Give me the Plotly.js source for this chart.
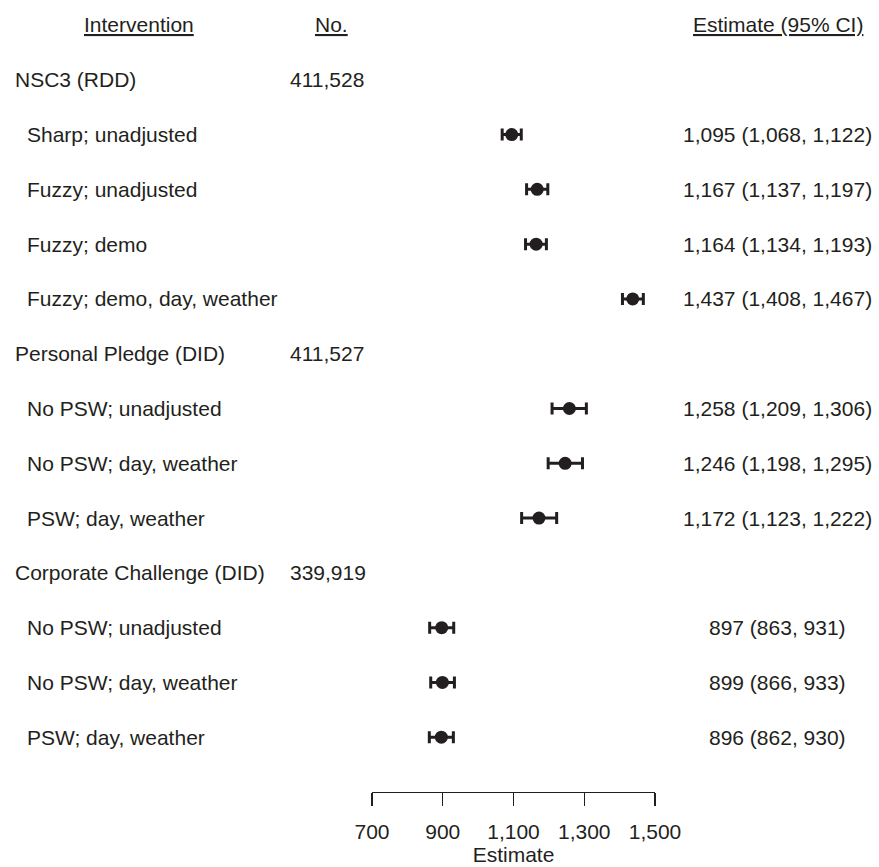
<!DOCTYPE html>
<html>
<head>
<meta charset="utf-8">
<script src="https://cdn.plot.ly/plotly-3.0.1.min.js"></script>
<style>html,body{margin:0;padding:0;background:#fff;}#chart{width:879px;height:867px;}</style>
</head>
<body>
<div id="chart"></div>
<script>
// ---- data ----
var headers = ['Intervention', 'No.', 'Estimate (95% CI)'];
var labels = ['NSC3 (RDD)', 'Sharp; unadjusted', 'Fuzzy; unadjusted', 'Fuzzy; demo', 'Fuzzy; demo, day, weather',
              'Personal Pledge (DID)', 'No PSW; unadjusted', 'No PSW; day, weather', 'PSW; day, weather',
              'Corporate Challenge (DID)', 'No PSW; unadjusted', 'No PSW; day, weather', 'PSW; day, weather'];
var isGroup = [true, false, false, false, false, true, false, false, false, true, false, false, false];
var counts = ['411,528', '', '', '', '', '411,527', '', '', '', '339,919', '', '', ''];
var estimate = [null, 1095, 1167, 1164, 1437, null, 1258, 1246, 1172, null, 897, 899, 896];
var lower    = [null, 1068, 1137, 1134, 1408, null, 1209, 1198, 1123, null, 863, 866, 862];
var upper    = [null, 1122, 1197, 1193, 1467, null, 1306, 1295, 1222, null, 931, 933, 930];
var tickVals = [700, 900, 1100, 1300, 1500];
var tickText = ['700', '900', '1,100', '1,300', '1,500'];
var axisTitle = 'Estimate';

// ---- layout helpers ----
var W = 879, H = 867;
var ink = '#231f20';
var fontFam = 'Liberation Sans, Arial, sans-serif';
var fs = 21;
function px(p) { return p / W; }
function fmt(v) { return v.toLocaleString('en-US'); }

var rowY = labels.map(function (_, i) { return -(i + 1); });
var plusErr = estimate.map(function (e, i) { return e == null ? null : upper[i] - e; });
var minusErr = estimate.map(function (e, i) { return e == null ? null : e - lower[i]; });

var trace = {
  type: 'scatter', mode: 'markers',
  x: estimate, y: rowY,
  marker: { size: 13, color: ink, symbol: 'circle' },
  error_x: { type: 'data', symmetric: false, array: plusErr, arrayminus: minusErr,
             color: ink, thickness: 3, width: 6 },
  hoverinfo: 'x', showlegend: false, cliponaxis: false
};

var ann = [];
function A(text, xp, y, anchor) {
  ann.push({ text: text, xref: 'paper', yref: 'y', x: px(xp), y: y, xanchor: anchor, yanchor: 'middle',
             showarrow: false, font: { family: fontFam, size: fs, color: ink } });
}
A('<u>' + headers[0] + '</u>', 139, 0, 'center');
A('<u>' + headers[1] + '</u>', 331, 0, 'center');
A('<u>' + headers[2] + '</u>', 778, 0, 'center');
labels.forEach(function (lab, i) {
  A(lab, isGroup[i] ? 13 : 25, rowY[i], 'left');
  if (counts[i]) A(counts[i], 288, rowY[i], 'left');
  if (estimate[i] != null) A(fmt(estimate[i]) + ' (' + fmt(lower[i]) + ', ' + fmt(upper[i]) + ')', 777, rowY[i], 'center');
});

var layout = {
  width: W, height: H,
  margin: { l: 0, r: 0, t: 0, b: 75, pad: 0 },
  paper_bgcolor: '#fff', plot_bgcolor: '#fff',
  font: { family: fontFam, size: fs, color: ink },
  xaxis: {
    domain: [372 / W, 655 / W], range: [700, 1500],
    showgrid: false, zeroline: false, showline: true, linecolor: ink, linewidth: 1.3,
    ticks: 'outside', ticklen: 13, tickwidth: 1.3, tickcolor: ink,
    tickvals: tickVals, ticktext: tickText, ticklabelstandoff: 7,
    tickfont: { family: fontFam, size: fs, color: ink },
    title: { text: axisTitle, font: { family: fontFam, size: fs, color: ink }, standoff: 5 },
    fixedrange: true
  },
  yaxis: {
    range: [-14, 0.456], visible: false, fixedrange: true
  },
  annotations: ann
};

Plotly.newPlot('chart', [trace], layout, { displayModeBar: false, staticPlot: true });
</script>
</body>
</html>
